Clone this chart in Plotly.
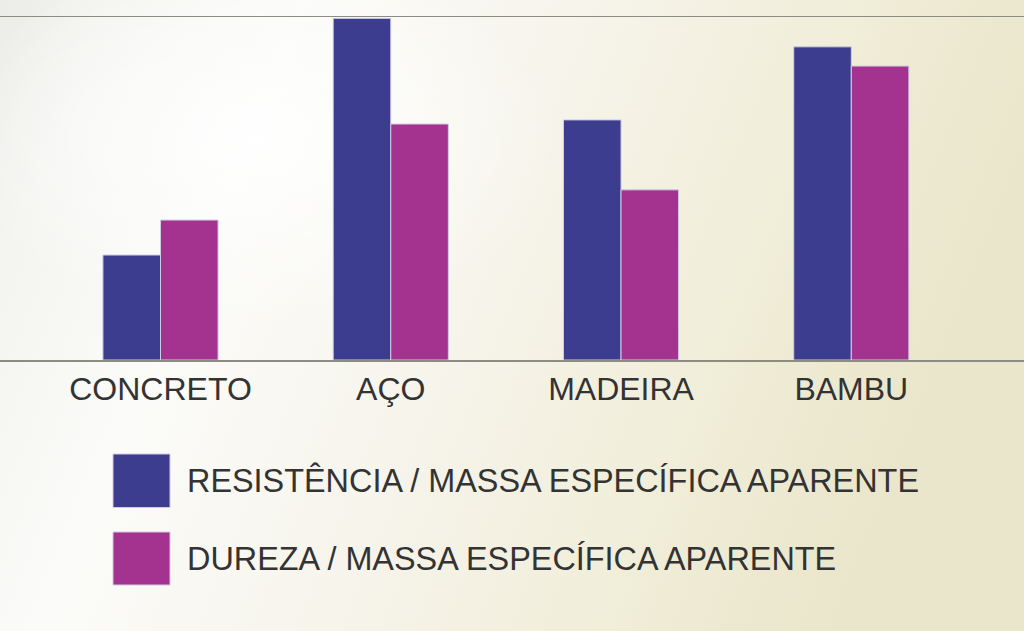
import base64
import plotly.graph_objects as go

# ---- data ----
categories = ["CONCRETO", "AÇO", "MADEIRA", "BAMBU"]
series_names = ["RESISTÊNCIA / MASSA ESPECÍFICA APARENTE", "DUREZA / MASSA ESPECÍFICA APARENTE"]
resistencia = [30.6, 99.6, 70.0, 91.3]
dureza = [40.8, 68.8, 49.6, 85.7]
series_values = [resistencia, dureza]
series_colors = ["#3d3d8f", "#a3338f"]

W, H = 1024, 631
ML, MR, MT, MB = 0, 0, 17, 271

# background gradient as an inline SVG image
svg = f'''<svg xmlns="http://www.w3.org/2000/svg" width="{W}" height="{H}" viewBox="0 0 {W} {H}">
<defs>
<linearGradient id="g" x1="0" y1="0" x2="1" y2="0.25">
<stop offset="0" stop-color="#ebebe8"/>
<stop offset="0.1" stop-color="#f4f4f1"/>
<stop offset="0.28" stop-color="#fbfbf9"/>
<stop offset="0.55" stop-color="#f6f4ea"/>
<stop offset="0.8" stop-color="#f0edd8"/>
<stop offset="1" stop-color="#eae6cb"/>
</linearGradient>
<radialGradient id="r" cx="0.25" cy="0.22" r="0.3">
<stop offset="0" stop-color="#ffffff" stop-opacity="0.9"/>
<stop offset="1" stop-color="#ffffff" stop-opacity="0"/>
</radialGradient>
</defs>
<rect width="{W}" height="{H}" fill="url(#g)"/>
<rect width="{W}" height="{H}" fill="url(#r)"/>
</svg>'''
bg_src = "data:image/svg+xml;base64," + base64.b64encode(svg.encode("utf-8")).decode("ascii")

fig = go.Figure()
for name, vals, col in zip(series_names, series_values, series_colors):
    fig.add_trace(go.Bar(
        x=categories, y=vals, name=name,
        marker=dict(color=col, line=dict(color="#cfcde3", width=1)),
        showlegend=False,
    ))

plot_h = H - MT - MB

def py_to_paper(py):
    return (H - MB - py) / plot_h

FONT = "Liberation Sans, Arial, sans-serif"

# manual legend with large squares
legend_rows = [(454, 507.5), (532, 585)]
shapes = []
annotations = []
for (top, bot), name, col in zip(legend_rows, series_names, series_colors):
    shapes.append(dict(type="rect", xref="paper", yref="paper",
                       x0=113 / W, x1=170 / W,
                       y0=py_to_paper(bot), y1=py_to_paper(top),
                       fillcolor=col, line=dict(color="#d8c8e0", width=1), layer="above"))
    annotations.append(dict(xref="paper", yref="paper", x=185 / W, y=py_to_paper((top + bot) / 2),
                            xanchor="left", yanchor="middle", text=name, showarrow=False,
                            font=dict(family=FONT, size=32.4, color="#333333")))

fig.update_layout(
    width=W, height=H,
    margin=dict(l=ML, r=MR, t=MT, b=MB, pad=0),
    paper_bgcolor="#f5f4ee",
    plot_bgcolor="rgba(0,0,0,0)",
    barmode="group", bargap=0.5, bargroupgap=0,
    images=[dict(source=bg_src, xref="paper", yref="paper", x=0, y=py_to_paper(0),
                 sizex=1, sizey=H / plot_h, sizing="stretch", xanchor="left", yanchor="top",
                 layer="below")],
    shapes=shapes,
    annotations=annotations,
    xaxis=dict(range=[-0.697, 3.750], showline=True, mirror=True, linecolor="#8d8c82",
               linewidth=1.5, showgrid=False, zeroline=False, ticks="",
               tickfont=dict(family=FONT, size=32, color="#333333"),
               ticklabelstandoff=0, fixedrange=True),
    yaxis=dict(range=[0, 100], visible=False, showgrid=False, zeroline=False, fixedrange=True),
    font=dict(family=FONT),
)

fig.write_html(
    "out.html",
    config={"displayModeBar": False, "staticPlot": True},
    post_script="document.body.style.margin='0';document.body.style.padding='0';document.body.style.overflow='hidden';",
)
